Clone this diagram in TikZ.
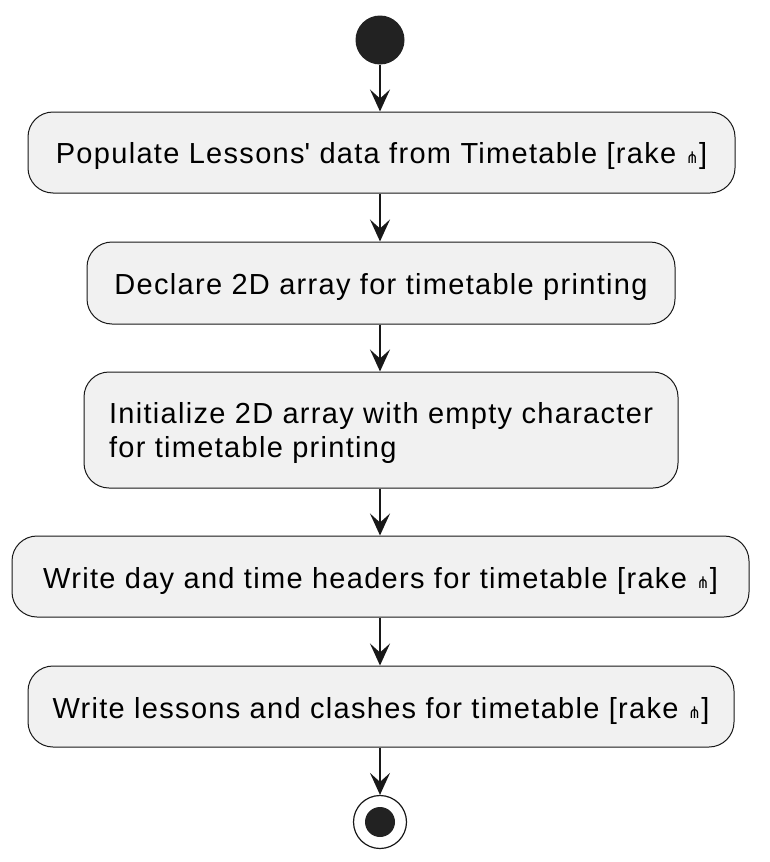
\documentclass[tikz,border=0pt]{standalone}
\usepackage{fontspec}
\setmainfont{Liberation Sans}[LetterSpace=4.5]
\newfontfamily\dejavu{DejaVu Sans}
\usetikzlibrary{arrows.meta}
\definecolor{boxfill}{HTML}{F1F1F1}
\definecolor{boxline}{HTML}{181818}
\definecolor{dotfill}{HTML}{222222}
\newcommand{\rakesym}{{\dejavu\fontsize{16}{16}\selectfont ⋔}}
\newcommand{\lowered}[1]{\raisebox{-4pt}[\height][\depth]{#1}}
\begin{document}
\begin{tikzpicture}[x=1pt,y=-1pt,
  actbox/.style={draw=boxline, fill=boxfill, line width=1pt, rounded corners=25pt,
    font=\fontsize{29}{34}\selectfont, align=left, inner sep=0pt},
  flow/.style={draw=boxline, line width=2pt, -{Stealth[length=22pt,width=20pt,inset=9pt]}}
]
\useasboundingbox (0,0) rectangle (770,862);
\node[circle, fill=dotfill, minimum size=49pt, inner sep=0pt] (start) at (380,40) {};
\node[actbox, minimum width=707pt, minimum height=81pt] (b1) at (381.5,152.5) {\lowered{Populate Lessons\textquotesingle{} data from Timetable [rake \rakesym]}};
\node[actbox, minimum width=588pt, minimum height=82pt] (b2) at (381,283) {\lowered{Declare 2D array for timetable printing}};
\node[actbox, minimum width=594pt, minimum height=116pt] (b3) at (381,430) {\lowered{\begin{tabular}{@{}l@{}}Initialize 2D array with empty character\\for timetable printing\end{tabular}}};
\node[actbox, minimum width=737pt, minimum height=81pt] (b4) at (380.5,576.5) {\lowered{Write day and time headers for timetable [rake \rakesym]}};
\node[actbox, minimum width=706pt, minimum height=81pt] (b5) at (381,706.5) {\lowered{Write lessons and clashes for timetable [rake \rakesym]}};
\node[circle, draw=boxline, line width=1.2pt, fill=white, minimum size=53pt, inner sep=0pt] (stop) at (380,822) {};
\node[circle, fill=dotfill, minimum size=30pt, inner sep=0pt] (stopdot) at (stop.center) {};
\draw[flow] (start.south) -- (start.south |- b1.north);
\draw[flow] (b1.south -| start) -- (b2.north -| start);
\draw[flow] (b2.south -| start) -- (b3.north -| start);
\draw[flow] (b3.south -| start) -- (b4.north -| start);
\draw[flow] (b4.south -| start) -- (b5.north -| start);
\draw[flow] (b5.south -| start) -- (stop.north);
\end{tikzpicture}
\end{document}
